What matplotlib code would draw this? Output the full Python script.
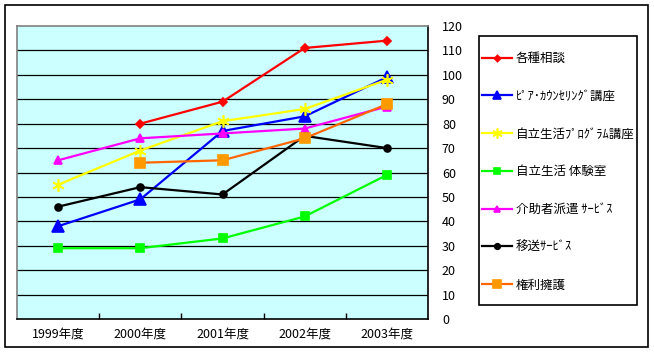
import matplotlib
matplotlib.use("Agg")
import matplotlib.pyplot as plt
from matplotlib.patches import Rectangle

plt.rcParams['font.family'] = ['Noto Sans CJK JP', 'DejaVu Sans']

years = ["1999年度", "2000年度", "2001年度", "2002年度", "2003年度"]

soudan = [None, 80, 89, 111, 114]
peer = [38, 49, 77, 83, 99]
program = [55, 69, 81, 86, 98]
taiken = [29, 29, 33, 42, 59]
kaijo = [65, 74, 76, 78, 87]
isou = [46, 54, 51, 75, 70]
kenri = [None, 64, 65, 74, 88]

labels = ["各種相談", "ﾋﾟｱ･ｶｳﾝｾﾘﾝｸﾞ講座", "自立生活ﾌﾟﾛｸﾞﾗﾑ講座", "自立生活 体験室",
          "介助者派遣 ｻｰﾋﾞｽ", "移送ｻｰﾋﾞｽ", "権利擁護"]

W, H = 654, 353
fig = plt.figure(figsize=(W / 100, H / 100), dpi=100)

# plot area in pixels: x 17..428, y 26..319
ax = fig.add_axes([17 / W, 1 - 319 / H, (428 - 17) / W, (319 - 26) / H])
ax.set_facecolor("#CCFFFF")

series = [
    (soudan, "#FF0000", "#FF0000", "D", 4),
    (peer, "#0000FF", "#0000FF", "^", 8),
    (program, "#FFFF00", "#FFFF00", (6, 2, 0), 9),
    (taiken, "#00FF00", "#00FF00", "s", 6),
    (kaijo, "#FF00FF", "#FF00FF", "^", 6),
    (isou, "#000000", "#000000", "o", 5),
    (kenri, "#FF6600", "#FF9900", "s", 6.5),
]

x = list(range(len(years)))
handles = []
for (vals, lc, mc, mk, ms), lab in zip(series, labels):
    xs = [i for i, v in zip(x, vals) if v is not None]
    ys = [v for v in vals if v is not None]
    h, = ax.plot(xs, ys, color=lc, lw=1.6, marker=mk, markersize=ms,
                 markerfacecolor=mc, markeredgecolor=mc, markeredgewidth=1.2,
                 label=lab, zorder=3)
    handles.append(h)

ax.set_xlim(-0.5, 4.5)
ax.set_ylim(0, 120)
ax.set_yticks(range(0, 121, 10))
for v in range(10, 120, 10):
    ax.axhline(v, color="black", lw=0.9, zorder=1)

ax.yaxis.tick_right()
ax.tick_params(axis="y", length=0, pad=10, labelsize=9)
ax.set_xticks(x)
ax.set_xticklabels(years)
ax.set_xticks([0.5, 1.5, 2.5, 3.5], minor=True)
ax.tick_params(axis="x", which="major", length=0, pad=6, labelsize=9)
ax.tick_params(axis="x", which="minor", direction="in", length=4, width=1, color="black")

ax.spines["top"].set_color("#808080")
ax.spines["left"].set_color("#808080")
ax.spines["bottom"].set_color("black")
ax.spines["right"].set_color("black")
for s in ax.spines.values():
    s.set_linewidth(1.2)

# legend box
fig.patches.append(Rectangle((479 / W, 1 - 305 / H), (637 - 479) / W, (305 - 36) / H,
                             transform=fig.transFigure, fill=False, edgecolor="black", lw=1.2))
fig.legend(handles=handles, loc="upper left", bbox_to_anchor=(482 / W, 1 - 52 / H),
           frameon=False, fontsize=9, borderpad=0, borderaxespad=0,
           handlelength=2.4, handletextpad=0.3, labelspacing=1.98, markerscale=0.8)

# outer chart border
fig.patches.append(Rectangle((5 / W, 1 - 347 / H), (648 - 5) / W, (347 - 5) / H,
                             transform=fig.transFigure, fill=False, edgecolor="black", lw=1.2))

fig.savefig("out.png", dpi=100)
